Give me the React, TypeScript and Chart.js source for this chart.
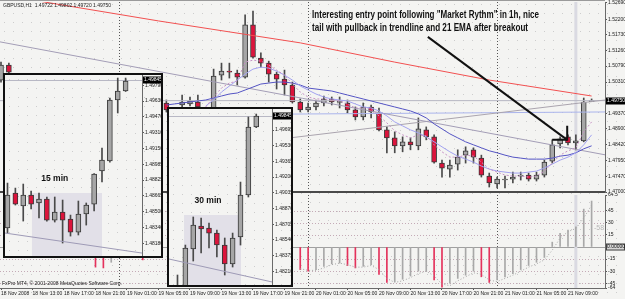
import React, { useEffect, useRef } from "react";
import { Chart, registerables } from "chart.js";

Chart.register(...registerables);

const FONT = "'Liberation Sans', Arial, Helvetica, sans-serif";
const BG = "#f4f4f2";
const UP = "#a6a6a6";
const DOWN = "#dc143c";
const EDGE = "#383838";
const WICK = "#4a4a4a";

// ---------- shared H1 time axis (bar index 0 = 18 Nov 2008 09:00) ----------
const timeTickIdx = [0, 4, 8, 12, 16, 20, 24, 28, 32, 36, 40, 44, 48, 52, 56, 60, 64, 68, 72];
const timeTickLabels = ["18 Nov 2008", "18 Nov 13:00", "18 Nov 17:00", "18 Nov 21:00", "19 Nov 01:00", "19 Nov 05:00", "19 Nov 09:00", "19 Nov 13:00", "19 Nov 17:00", "19 Nov 21:00", "20 Nov 01:00", "20 Nov 05:00", "20 Nov 09:00", "20 Nov 13:00", "20 Nov 17:00", "20 Nov 21:00", "21 Nov 01:00", "21 Nov 05:00", "21 Nov 09:00"];
const daySeparatorIdx = [15, 39, 63];
const markerLineIdx = 73;

// ---------- H1 candles (null = hidden behind the inset windows) ----------
const h1Open = [1.5037, 1.5082, null, null, null, null, null, null, null, null, null, null, null, null, null, null, null, null, null, null, null,
  1.4968, 1.4944, 1.4962, 1.4965, 1.4971, 1.4947, 1.4953, 1.5052, 1.5064, 1.5058,
  1.5046, 1.5203, 1.5103, 1.5088, 1.5055, 1.5040, 1.5022, 1.4971, 1.4947, 1.4956,
  1.4968, 1.4980, 1.4970, 1.4968, 1.4947, 1.4926, 1.4956, 1.4938, 1.4887, 1.4863,
  1.4839, 1.4851, 1.4839, 1.4887, 1.4866, 1.4787, 1.4769, 1.4784, 1.4811, 1.4827,
  1.4802, 1.4748, 1.4724, 1.4736, 1.4739, 1.4748, 1.4751, 1.4739, 1.4751, 1.4793,
  1.4845, 1.4866, 1.4848, 1.4854, 1.49722];
const h1High = [1.5091, 1.5088, null, null, null, null, null, null, null, null, null, null, null, null, null, null, null, null, null, null, null,
  1.4977, 1.4953, 1.4992, 1.4986, 1.4992, 1.4953, 1.5070, 1.5088, 1.5088, 1.5067,
  1.5233, 1.5245, 1.5119, 1.5094, 1.5061, 1.5067, 1.5031, 1.4980, 1.4968, 1.4977,
  1.4989, 1.4986, 1.4986, 1.4977, 1.4956, 1.4968, 1.4962, 1.4953, 1.4896, 1.4881,
  1.4866, 1.4863, 1.4923, 1.4896, 1.4872, 1.4796, 1.4796, 1.4827, 1.4836, 1.4833,
  1.4811, 1.4757, 1.4745, 1.4748, 1.4760, 1.4760, 1.4757, 1.4760, 1.4796, 1.4857,
  1.4866, 1.4872, 1.4872, 1.4983, 1.49802];
const h1Low = [1.5031, 1.5058, null, null, null, null, null, null, null, null, null, null, null, null, null, null, null, null, null, null, null,
  1.4941, 1.4935, 1.4953, 1.4959, 1.4947, 1.4941, 1.4947, 1.5037, 1.5043, 1.5022,
  1.5043, 1.5103, 1.5076, 1.5031, 1.5010, 1.4992, 1.4968, 1.4941, 1.4941, 1.4947,
  1.4959, 1.4962, 1.4953, 1.4938, 1.4917, 1.4917, 1.4923, 1.4884, 1.4818, 1.4818,
  1.4821, 1.4827, 1.4827, 1.4857, 1.4787, 1.4745, 1.4745, 1.4766, 1.4787, 1.4787,
  1.4745, 1.4715, 1.4712, 1.4712, 1.4727, 1.4736, 1.4733, 1.4733, 1.4745, 1.4787,
  1.4833, 1.4842, 1.4827, 1.4851, 1.49720];
const h1Close = [1.5082, 1.5061, null, null, null, null, null, null, null, null, null, null, null, null, null, null, null, null, null, null, null,
  1.4947, 1.4950, 1.4971, 1.4974, 1.4956, 1.4953, 1.5049, 1.5064, 1.5061, 1.5046,
  1.5203, 1.5106, 1.5088, 1.5055, 1.5040, 1.5022, 1.4971, 1.4947, 1.4956, 1.4968,
  1.4980, 1.4971, 1.4971, 1.4947, 1.4926, 1.4956, 1.4941, 1.4887, 1.4863, 1.4839,
  1.4851, 1.4842, 1.4890, 1.4866, 1.4790, 1.4772, 1.4781, 1.4805, 1.4824, 1.4805,
  1.4751, 1.4727, 1.4739, 1.4737, 1.4745, 1.4749, 1.4739, 1.4751, 1.4790, 1.4842,
  1.4860, 1.4848, 1.4854, 1.4971, 1.49750];

// ---------- moving averages ----------
const ema21Start = 21;
const ema21 = [1.4962, 1.4965, 1.4968, 1.4971, 1.4974, 1.4977, 1.4983, 1.4989, 1.4995, 1.4998,
  1.5007, 1.5016, 1.5025, 1.5028, 1.5031, 1.5031, 1.5028, 1.5022, 1.5013, 1.5010,
  1.5007, 1.5004, 1.4998, 1.4992, 1.4986, 1.4980, 1.4974, 1.4968, 1.4962, 1.4956,
  1.4950, 1.4944, 1.4935, 1.4923, 1.4905, 1.4890, 1.4875, 1.4863, 1.4851, 1.4842,
  1.4833, 1.4824, 1.4818, 1.4811, 1.4805, 1.4802, 1.4799, 1.4799, 1.4799, 1.4802,
  1.4808, 1.4811, 1.4818, 1.4830, 1.4839];
const emaMidStart = 26;
const emaMid = [1.4959, 1.4977, 1.5001, 1.5019, 1.5037, 1.5055, 1.5070, 1.5076, 1.5073, 1.5064,
  1.5052, 1.5037, 1.5019, 1.5007, 1.4995, 1.4986, 1.4980, 1.4977, 1.4974, 1.4965,
  1.4956, 1.4953, 1.4944, 1.4929, 1.4911, 1.4899, 1.4887, 1.4878, 1.4866, 1.4851,
  1.4836, 1.4821, 1.4808, 1.4799, 1.4790, 1.4778, 1.4769, 1.4763, 1.4760, 1.4757,
  1.4757, 1.4760, 1.4763, 1.4772, 1.4784, 1.4796, 1.4805, 1.4818, 1.4842, 1.4872];
const emaFastStart = 26;
const emaFast = [1.4956, 1.4986, 1.5013, 1.5028, 1.5034, 1.5091, 1.5097, 1.5094, 1.5082, 1.5067,
  1.5052, 1.5025, 1.5001, 1.4986, 1.4980, 1.4980, 1.4977, 1.4974, 1.4965, 1.4953,
  1.4953, 1.4950, 1.4929, 1.4908, 1.4884, 1.4872, 1.4863, 1.4872, 1.4869, 1.4842,
  1.4821, 1.4805, 1.4805, 1.4811, 1.4808, 1.4790, 1.4769, 1.4760, 1.4751, 1.4748,
  1.4748, 1.4745, 1.4748, 1.4763, 1.4787, 1.4811, 1.4824, 1.4833, 1.4881, 1.4911];
const redMaIdx = [0, 4, 20, 38, 50, 62, 75];
const redMaVal = [1.5296, 1.5278, 1.5215, 1.5149, 1.5091, 1.5037, 1.4989];

// ---------- drawn objects ----------
const trendFalling = [[-0.13, 1.5152], [76.7, 1.4812]];
const trendRising = [[22, 1.4821], [76.7, 1.4977]];
const levelLine = [[21, 1.4932], [76.7, 1.4941]];
const lastPrice = 1.4975;
const priceTicks = [1.5269, 1.522, 1.5173, 1.5126, 1.5079, 1.5031, 1.4937, 1.489, 1.4842, 1.4795, 1.4747, 1.47];
const arrowTail = [54.2, 1.5167];
const arrowTip = [71.9, 1.4857];
const noteX = 39.5;
const noteY = [1.5233, 1.5194];
const noteLines = ['Interesting entry point following "Market Rythm" in 1h, nice', "tail with pullback in trendline and 21 EMA after breakout"];
const symbolTitle = "GBPUSD,H1  1.49722 1.49802 1.49720 1.49750";
const copyright = "FxPro MT4, \u00a9 2001-2008 MetaQuotes Software Corp.";

// ---------- oscillator histogram ----------
const oscEarlyIdx = [12, 13, 14, 18];
const oscEarlyVal = [-25, -26, -19, -16];
const oscStart = 38;
const oscVal = [-28, -30, -28, -24, -21, -20, -23, -26, -24, -22,
  -34, -44, -43, -40, -36, -30, -30, -41, -50, -45,
  -39, -35, -30, -37, -44, -41, -37, -33, -28, -23,
  -19, -13, 6, 17, 21, 25, 47, 57];
const oscSignal = [-27, -29, -29, -26, -22, -20, -22, -25, -25, -23,
  -28, -39, -44, -42, -38, -33, -30, -36, -46, -48,
  -42, -37, -32, -34, -41, -43, -39, -35, -30, -25,
  -21, -16, -4, 11, 19, 23, 36, 52];
const oscTickVals = [64.5, 45, 30, 15, 0, -15, -30, -45, -50.9];
const oscTickLabels = ["64.5", "45", "30", "15", "0.00000", "-15", "-30", "-45", "-64"];
const oscLevels = [45, 30, 15, -15, -30, -45];
const oscSideLabel = [75.3, 23.6, "-58"];

// ---------- 15 min inset ----------
const m15Open = [1.48336, 1.48693, 1.48560, 1.48672, 1.48591, 1.48631, 1.48417, 1.48499, 1.48428, 1.48295, 1.48479, 1.48580, 1.48917, 1.49019, 1.49640, 1.49732];
const m15High = [1.48794, 1.48743, 1.48784, 1.48713, 1.48693, 1.48652, 1.48652, 1.48621, 1.48468, 1.48611, 1.48591, 1.48890, 1.49151, 1.49661, 1.49864, 1.49864];
const m15Low = [1.48285, 1.48570, 1.48407, 1.48530, 1.48438, 1.48407, 1.48397, 1.48183, 1.48254, 1.48265, 1.48366, 1.48509, 1.48805, 1.49008, 1.49508, 1.49727];
const m15Close = [1.48672, 1.48580, 1.48672, 1.48580, 1.48631, 1.48417, 1.48499, 1.48417, 1.48295, 1.48479, 1.48570, 1.48886, 1.49029, 1.49640, 1.49732, 1.49834];
const m15Ticks = [1.4979, 1.4963, 1.4947, 1.4931, 1.4915, 1.48985, 1.48825, 1.48665, 1.485, 1.4834, 1.4818];
const m15Trend = [[-0.32, 1.48285], [17.08, 1.48081]];
const m15Shade = [3.1, 12.0, 1.48693];
const m15Label = [6.0, 1.48845, "15 min"];
const m15Bid = 1.49845;

// ---------- 30 min inset ----------
const m30Open = [1.48013, 1.48013, 1.48444, 1.48686, 1.48665, 1.48612, 1.48486, 1.48287, 1.48571, 1.49012, 1.49727];
const m30High = [1.48171, 1.48486, 1.48781, 1.48770, 1.48718, 1.48644, 1.48560, 1.48612, 1.49148, 1.49832, 1.49863];
const m30Low = [1.47992, 1.47992, 1.48318, 1.48402, 1.48455, 1.48360, 1.48171, 1.48255, 1.48486, 1.48991, 1.49720];
const m30Close = [1.48055, 1.48455, 1.48697, 1.48655, 1.48612, 1.48486, 1.48287, 1.48560, 1.49012, 1.49727, 1.49842];
const m30Ticks = [1.49695, 1.4953, 1.49365, 1.492, 1.49035, 1.4887, 1.48705, 1.4854, 1.48375, 1.4821];
const m30Trend = [[-1.08, 1.48339], [12.0, 1.48098]];
const m30Shade = [0.83, 8.06, 1.48802];
const m30Label = [3.87, 1.48949, "30 min"];
const m30Bid = 1.49845;

// ====================================================================
const X_MIN = -0.127;
const X_MAX = 76.7;

function candleSets(o: any[], h: any[], l: any[], c: any[], order: number) {
  const wick: any[] = [];
  const body: any[] = [];
  const fill: string[] = [];
  o.forEach((ov, i) => {
    if (ov == null) return;
    const cv = c[i];
    wick.push({ x: i, y: [l[i], h[i]] });
    body.push({ x: i, y: [Math.min(ov, cv), Math.max(ov, cv)] });
    fill.push(cv < ov ? DOWN : UP);
  });
  return [
    { type: "bar", data: body, backgroundColor: fill, borderColor: EDGE, borderWidth: 1, borderSkipped: false,
      grouped: false, maxBarThickness: 5, barPercentage: 1, categoryPercentage: 1, minBarLength: 1, order },
    { type: "bar", data: wick, backgroundColor: WICK, borderWidth: 0, grouped: false, maxBarThickness: 1,
      barPercentage: 1, categoryPercentage: 1, order: order + 1 },
  ];
}

function series(start: number, vals: number[]) {
  return vals.map((v, k) => ({ x: start + k, y: v }));
}
function pts(arr: number[][]) {
  return arr.map((p) => ({ x: p[0], y: p[1] }));
}
function line(data: any[], color: string, width: number, order: number, dash: number[] = []) {
  return { type: "line", data, borderColor: color, borderWidth: width, borderDash: dash, pointRadius: 0,
    pointHoverRadius: 0, fill: false, tension: 0, spanGaps: true, order };
}

function yAxis(width: number, min: number, max: number, ticks: number[], labels?: string[]) {
  return {
    type: "linear", position: "right", min, max, beginAtZero: false,
    afterFit: (s: any) => { s.width = width; s.paddingTop = 0; s.paddingBottom = 0; },
    afterBuildTicks: (s: any) => { s.ticks = ticks.map((v) => ({ value: v })); },
    ticks: {
      autoSkip: false, padding: 1, color: "#1a1a1a", font: { size: 5, family: FONT },
      callback: (v: any, i: number) => (labels ? labels[i] : Number(v).toFixed(5)),
    },
    grid: { drawOnChartArea: false, tickLength: 2, color: "#555" },
    border: { display: true, color: "#6a6a6a" },
  };
}

function hiddenX(min: number, max: number) {
  return { type: "linear", min, max, display: false, offset: false, grid: { offset: false } };
}

function baseOptions(padding: any) {
  return {
    responsive: false, animation: false, devicePixelRatio: 1, events: [],
    layout: { padding },
    plugins: { legend: { display: false }, tooltip: { enabled: false } },
  };
}

function verticals(chart: any) {
  const { ctx, chartArea: a, scales } = chart;
  const x = scales.x;
  ctx.save();
  const mx = x.getPixelForValue(markerLineIdx);
  ctx.fillStyle = "#dadae2";
  ctx.fillRect(mx - 1.5, a.top, 3, a.bottom - a.top);
  ctx.strokeStyle = "#555";
  ctx.lineWidth = 1;
  ctx.setLineDash([1, 2]);
  daySeparatorIdx.forEach((i) => {
    const px = Math.round(x.getPixelForValue(i)) + 0.5;
    ctx.beginPath();
    ctx.moveTo(px, a.top);
    ctx.lineTo(px, a.bottom);
    ctx.stroke();
  });
  ctx.restore();
}

function priceBox(chart: any, value: number, text: string) {
  const { ctx, chartArea: a, scales } = chart;
  const yy = scales.y.getPixelForValue(value);
  ctx.save();
  ctx.fillStyle = "#000";
  ctx.fillRect(a.right + 1, Math.round(yy) - 3.5, chart.width - a.right - 1, 7);
  ctx.fillStyle = "#fff";
  ctx.font = `5px ${FONT}`;
  ctx.textBaseline = "middle";
  ctx.textAlign = "left";
  ctx.fillText(text, a.right + 2, Math.round(yy));
  ctx.restore();
}

const mainDecor = {
  id: "mainDecor",
  beforeDatasetsDraw(chart: any) {
    verticals(chart);
  },
  afterDatasetsDraw(chart: any) {
    const { ctx, chartArea: a, scales: { x, y } } = chart;
    ctx.save();
    const ax = x.getPixelForValue(arrowTail[0]);
    const ay = y.getPixelForValue(arrowTail[1]);
    const bx = x.getPixelForValue(arrowTip[0]);
    const by = y.getPixelForValue(arrowTip[1]);
    ctx.strokeStyle = "#111";
    ctx.lineWidth = 2;
    ctx.beginPath();
    ctx.moveTo(ax, ay);
    ctx.lineTo(bx, by);
    ctx.stroke();
    ctx.beginPath();
    ctx.moveTo(bx - 15, by);
    ctx.lineTo(bx, by);
    ctx.lineTo(bx, by - 14);
    ctx.stroke();

    ctx.fillStyle = "#111";
    ctx.textAlign = "left";
    ctx.textBaseline = "middle";
    ctx.font = `bold 10px ${FONT}`;
    const nx = x.getPixelForValue(noteX);
    ctx.fillText(noteLines[0], nx, y.getPixelForValue(noteY[0]), 227);
    ctx.fillText(noteLines[1], nx, y.getPixelForValue(noteY[1]), 216);

    ctx.font = `5px ${FONT}`;
    ctx.fillStyle = "#222";
    ctx.fillText(symbolTitle, a.left + 3, a.top + 3.5);
    ctx.restore();
  },
  afterDraw(chart: any) {
    const { ctx, chartArea: a } = chart;
    ctx.save();
    ctx.fillStyle = "#9a9a9a";
    ctx.fillRect(0, 0, a.right, 1);
    ctx.fillStyle = "#4a4a4a";
    ctx.fillRect(0, a.bottom - 1, a.right, 2);
    ctx.restore();
    priceBox(chart, lastPrice, "1.49750");
  },
};

const oscDecor = {
  id: "oscDecor",
  beforeDatasetsDraw(chart: any) {
    const { ctx, chartArea: a, scales: { y } } = chart;
    ctx.save();
    ctx.strokeStyle = "#c4aab6";
    ctx.lineWidth = 1;
    ctx.setLineDash([1, 2]);
    oscLevels.forEach((v) => {
      const py = Math.round(y.getPixelForValue(v)) + 0.5;
      ctx.beginPath();
      ctx.moveTo(a.left, py);
      ctx.lineTo(a.right, py);
      ctx.stroke();
    });
    ctx.setLineDash([]);
    ctx.strokeStyle = "#a0a0a0";
    const zy = Math.round(y.getPixelForValue(0)) + 0.5;
    ctx.beginPath();
    ctx.moveTo(a.left, zy);
    ctx.lineTo(a.right, zy);
    ctx.stroke();
    ctx.restore();
    verticals(chart);
  },
  afterDraw(chart: any) {
    const { ctx, chartArea: a, scales: { x, y } } = chart;
    ctx.save();
    const zy = Math.round(y.getPixelForValue(0));
    ctx.fillStyle = "#d6d6d6";
    ctx.fillRect(a.right + 1, zy - 3.5, chart.width - a.right - 1, 7);
    ctx.strokeStyle = "#444";
    ctx.lineWidth = 1;
    ctx.strokeRect(a.right + 1.5, zy - 3, chart.width - a.right - 2, 6);
    ctx.fillStyle = "#111";
    ctx.font = `5px ${FONT}`;
    ctx.textBaseline = "middle";
    ctx.textAlign = "left";
    ctx.fillText("0.00000", a.right + 2, zy);

    ctx.fillStyle = "#222";
    ctx.fillText(copyright, a.left + 2, a.bottom - 4);

    ctx.fillStyle = "#b8b8b8";
    ctx.font = `7px ${FONT}`;
    ctx.fillText(String(oscSideLabel[2]), x.getPixelForValue(oscSideLabel[0] as number), y.getPixelForValue(oscSideLabel[1] as number));
    ctx.restore();
  },
};

function insetDecor(id: string, shade: number[], label: any[], bid: number) {
  return {
    id,
    beforeDatasetsDraw(chart: any) {
      const { ctx, chartArea: a, scales: { x, y } } = chart;
      ctx.save();
      const x0 = x.getPixelForValue(shade[0]);
      const x1 = x.getPixelForValue(shade[1]);
      const y0 = y.getPixelForValue(shade[2]);
      ctx.fillStyle = "#e2e0e8";
      ctx.fillRect(x0, y0, x1 - x0, a.bottom - y0);
      const by = Math.round(y.getPixelForValue(bid)) + 0.5;
      ctx.strokeStyle = "#b8b8c4";
      ctx.lineWidth = 1;
      ctx.beginPath();
      ctx.moveTo(a.left, by);
      ctx.lineTo(a.right, by);
      ctx.stroke();
      ctx.restore();
    },
    afterDatasetsDraw(chart: any) {
      const { ctx, scales: { x, y } } = chart;
      ctx.save();
      ctx.fillStyle = "#111";
      ctx.font = `bold 9px ${FONT}`;
      ctx.textAlign = "center";
      ctx.textBaseline = "middle";
      ctx.fillText(label[2], x.getPixelForValue(label[0]), y.getPixelForValue(label[1]), 27);
      ctx.restore();
    },
    afterDraw(chart: any) {
      priceBox(chart, bid, bid.toFixed(5));
    },
  };
}

function insetConfig(o: any[], h: any[], l: any[], c: any[], trend: number[][], xmin: number, xmax: number,
  ymin: number, ymax: number, ticks: number[], plugin: any) {
  return {
    type: "bar",
    data: {
      datasets: [
        line(pts(trend), "#9e9ab6", 1, 1),
        ...candleSets(o, h, l, c, 2),
      ],
    },
    options: {
      ...baseOptions({ top: 0, bottom: 0, left: 0, right: 0 }),
      scales: { x: hiddenX(xmin, xmax), y: yAxis(19, ymin, ymax, ticks) },
    },
    plugins: [plugin],
  };
}

export default function App() {
  const mainRef = useRef<HTMLCanvasElement>(null);
  const oscRef = useRef<HTMLCanvasElement>(null);
  const m15Ref = useRef<HTMLCanvasElement>(null);
  const m30Ref = useRef<HTMLCanvasElement>(null);

  useEffect(() => {
    const charts: Chart[] = [];

    const redPts = redMaIdx.map((i, k) => ({ x: i, y: redMaVal[k] }));
    charts.push(new Chart(mainRef.current as any, {
      type: "bar",
      data: {
        datasets: [
          line(series(emaFastStart, emaFast), "#c590c4", 1, 1, [2, 2]),
          line(series(emaMidStart, emaMid), "#a2a2f0", 1, 2),
          line(series(ema21Start, ema21), "#5454c4", 1, 3),
          line(redPts, "#f25050", 1, 4),
          line(pts(trendFalling), "#a39db6", 1, 5),
          line(pts(trendRising), "#aaa4ae", 1, 5),
          line(pts(levelLine), "#aab4ec", 1, 5),
          line(pts([[X_MIN, lastPrice], [X_MAX, lastPrice]]), "#b6b6c2", 1, 6),
          ...candleSets(h1Open, h1High, h1Low, h1Close, 7),
        ],
      } as any,
      options: {
        ...baseOptions({ top: 2, bottom: 2, left: 0, right: 0 }),
        scales: {
          x: hiddenX(X_MIN, X_MAX),
          y: yAxis(20, 1.47, 1.5272, priceTicks),
        },
      } as any,
      plugins: [mainDecor],
    } as any));

    const oscPts: any[] = [];
    oscEarlyIdx.forEach((i, k) => oscPts.push({ x: i, y: oscEarlyVal[k] }));
    oscVal.forEach((v, k) => oscPts.push({ x: oscStart + k, y: v }));
    const oscColors = oscPts.map((p, k) => {
      const prev = k > 0 && oscPts[k - 1].x === p.x - 1 ? oscPts[k - 1].y : null;
      const falling = prev == null ? p.y < 0 : p.y < prev;
      return falling ? "#e4325c" : "#a8a8a8";
    });
    charts.push(new Chart(oscRef.current as any, {
      type: "bar",
      data: {
        datasets: [
          line(series(oscStart, oscSignal), "#a4a4a4", 1, 1, [1, 2]),
          { type: "bar", data: oscPts, backgroundColor: oscColors, borderWidth: 0, grouped: false,
            maxBarThickness: 1, barPercentage: 1, categoryPercentage: 1, order: 2 },
        ],
      } as any,
      options: {
        ...baseOptions({ top: 2, bottom: 0, left: 0, right: 0 }),
        scales: {
          x: {
            type: "linear", min: X_MIN, max: X_MAX, offset: false, position: "bottom",
            afterFit: (s: any) => { s.height = 11; s.paddingLeft = 0; s.paddingRight = 0; },
            afterBuildTicks: (s: any) => { s.ticks = timeTickIdx.map((v) => ({ value: v })); },
            ticks: {
              autoSkip: false, maxRotation: 0, minRotation: 0, align: "start", padding: 1,
              color: "#1a1a1a", font: { size: 5, family: FONT },
              callback: (_v: any, i: number) => timeTickLabels[i],
            },
            grid: { drawOnChartArea: false, tickLength: 2, color: "#555", offset: false },
            border: { display: true, color: "#6a6a6a" },
          },
          y: yAxis(20, -50.9, 64.5, oscTickVals, oscTickLabels),
        },
      } as any,
      plugins: [oscDecor],
    } as any));

    charts.push(new Chart(m15Ref.current as any, insetConfig(m15Open, m15High, m15Low, m15Close, m15Trend,
      -0.317, 17.08, 1.48051, 1.49895, m15Ticks, insetDecor("m15", m15Shade, m15Label, m15Bid)) as any));
    charts.push(new Chart(m30Ref.current as any, insetConfig(m30Open, m30High, m30Low, m30Close, m30Trend,
      -1.079, 12.0, 1.48066, 1.49916, m30Ticks, insetDecor("m30", m30Shade, m30Label, m30Bid)) as any));

    return () => charts.forEach((c) => c.destroy());
  }, []);

  const dots = {
    backgroundColor: BG,
    backgroundImage: "radial-gradient(circle, #cdcdcd 0.55px, transparent 0.9px)",
    backgroundSize: "9px 9px",
  };

  return (
    <div style={{ position: "fixed", left: 0, top: 0, width: 625, height: 299, overflow: "hidden", ...dots }}>
      <canvas ref={mainRef} width={625} height={194} style={{ position: "absolute", left: 0, top: 0 }} />
      <canvas ref={oscRef} width={625} height={106} style={{ position: "absolute", left: 0, top: 193 }} />
      <div style={{ position: "absolute", left: 3, top: 73, width: 160, height: 185, boxSizing: "border-box",
        border: "2px solid #111", ...dots }}>
        <canvas ref={m15Ref} width={156} height={181} style={{ display: "block" }} />
      </div>
      <div style={{ position: "absolute", left: 167, top: 107, width: 126, height: 180, boxSizing: "border-box",
        border: "2px solid #111", ...dots }}>
        <canvas ref={m30Ref} width={122} height={176} style={{ display: "block" }} />
      </div>
    </div>
  );
}
